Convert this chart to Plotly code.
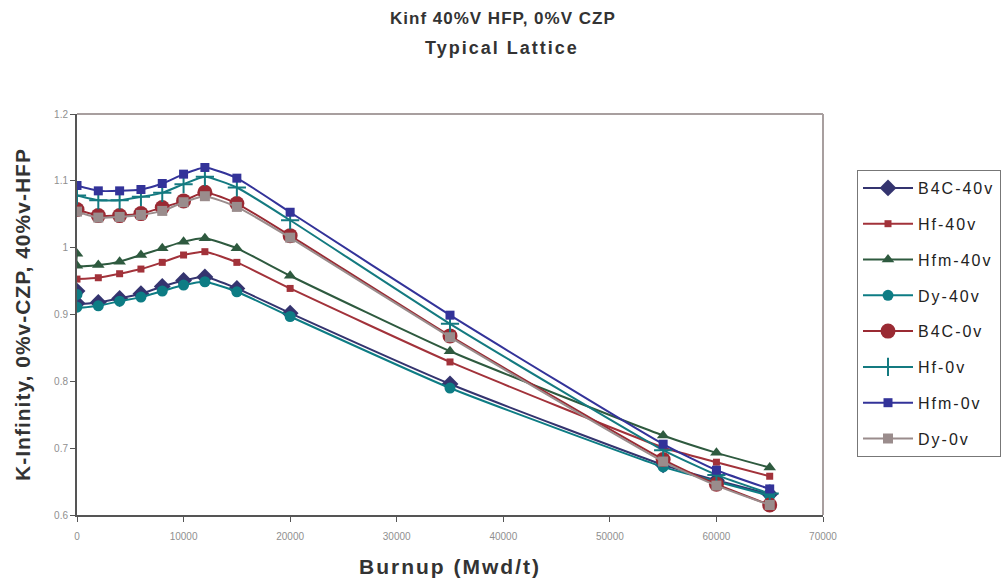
import plotly.graph_objects as go

# Burnup points (Mwd/t); the 40%v cases carry two states at zero burnup
burnup_40v = [0, 0, 2000, 4000, 6000, 8000, 10000, 12000, 15000, 20000, 35000, 55000, 60000, 65000]
burnup_single = [0, 2000, 4000, 6000, 8000, 10000, 12000, 15000, 20000, 35000, 55000, 60000, 65000]

b4c_40v = [0.935, 0.917, 0.918, 0.924, 0.931, 0.942, 0.951, 0.956, 0.939, 0.902, 0.796, 0.675, 0.652, 0.631]
hf_40v = [0.953, 0.955, 0.961, 0.968, 0.978, 0.989, 0.994, 0.978, 0.939, 0.829, 0.701, 0.679, 0.658]
hfm_40v = [0.991, 0.973, 0.974, 0.979, 0.989, 0.999, 1.009, 1.014, 0.999, 0.958, 0.845, 0.719, 0.693, 0.671]
dy_40v = [0.930, 0.911, 0.913, 0.920, 0.926, 0.935, 0.944, 0.949, 0.934, 0.897, 0.790, 0.672, 0.650, 0.629]
b4c_0v = [1.057, 1.048, 1.048, 1.051, 1.060, 1.070, 1.083, 1.066, 1.018, 0.868, 0.683, 0.646, 0.615]
hf_0v = [1.078, 1.071, 1.071, 1.076, 1.082, 1.095, 1.106, 1.090, 1.041, 0.886, 0.697, 0.660, 0.632]
hfm_0v = [1.093, 1.085, 1.085, 1.087, 1.096, 1.110, 1.120, 1.104, 1.053, 0.899, 0.706, 0.667, 0.639]
dy_0v = [1.054, 1.045, 1.046, 1.049, 1.055, 1.068, 1.077, 1.061, 1.015, 0.866, 0.680, 0.644, 0.615]

x_ticks = [0, 10000, 20000, 30000, 40000, 50000, 60000, 70000]
x_tick_text = ["0", "10000", "20000", "30000", "40000", "50000", "60000", "70000"]
y_ticks = [0.6, 0.7, 0.8, 0.9, 1.0, 1.1, 1.2]
y_tick_text = ["0.6", "0.7", "0.8", "0.9", "1", "1.1", "1.2"]

series = [
    ("B4C-40v", burnup_40v, b4c_40v, "#34346f", "diamond", 13),
    ("Hf-40v", burnup_single, hf_40v, "#a2323a", "square", 7),
    ("Hfm-40v", burnup_40v, hfm_40v, "#2e5a3f", "triangle-up", 11),
    ("Dy-40v", burnup_40v, dy_40v, "#0d7c84", "circle", 11),
    ("B4C-0v", burnup_single, b4c_0v, "#9a2a33", "circle", 15),
    ("Hf-0v", burnup_single, hf_0v, "#147a80", "cross-thin", 13),
    ("Hfm-0v", burnup_single, hfm_0v, "#333399", "square", 9),
    ("Dy-0v", burnup_single, dy_0v, "#9a8c8c", "square", 10),
]


def spaced(text, px):
    """Wrap text in a span with extra letter spacing."""
    return f"<span style='letter-spacing:{px}px'>{text}</span>"


fig = go.Figure()
for name, xs, ys, color, symbol, size in series:
    fig.add_trace(go.Scatter(
        x=xs, y=ys, name=spaced(name, 2), legendgroup=name,
        mode="lines+markers",
        line=dict(color=color, width=2, shape="spline", smoothing=0.5),
        marker=dict(symbol=symbol, size=size, color=color,
                    line=dict(width=2 if symbol == "cross-thin" else 0, color=color)),
    ))

font_family = "Liberation Sans, Arial, sans-serif"

W, H = 1005, 578
PLOT_LEFT, PLOT_RIGHT = 77, 823
PLOT_TOP, PLOT_BOTTOM = 114, 515
PLOT_W = PLOT_RIGHT - PLOT_LEFT
PLOT_H = PLOT_BOTTOM - PLOT_TOP


def paper_x(px):
    return (px - PLOT_LEFT) / PLOT_W


def paper_y(py):
    return (PLOT_BOTTOM - py) / PLOT_H


fig.update_layout(
    width=W, height=H,
    margin=dict(l=PLOT_LEFT, r=W - PLOT_RIGHT, t=PLOT_TOP, b=H - PLOT_BOTTOM, autoexpand=False),
    paper_bgcolor="white", plot_bgcolor="white",
    font=dict(family=font_family, color="#333333"),
    showlegend=True,
    legend=dict(
        x=paper_x(857), y=paper_y(170), xanchor="left", yanchor="top",
        bordercolor="#777777", borderwidth=1,
        font=dict(size=16, color="#222222"),
        itemwidth=50, tracegroupgap=12,
        bgcolor="white",
    ),
    xaxis=dict(
        range=[0, 70000], tickvals=x_ticks, ticktext=x_tick_text,
        showgrid=False, zeroline=False,
        showline=True, linecolor="#555555", linewidth=2,
        ticks="outside", ticklen=5, tickcolor="#555555",
        tickfont=dict(size=10, color="#8f8f8f"), ticklabelstandoff=6,
        title=dict(text="<b>" + spaced("Burnup (Mwd/t)", 2) + "</b>",
                   font=dict(size=21, color="#333333"), standoff=18),
    ),
    yaxis=dict(
        range=[0.6, 1.2], tickvals=y_ticks, ticktext=y_tick_text,
        showgrid=False, zeroline=False,
        showline=True, linecolor="#555555", linewidth=2,
        ticks="outside", ticklen=5, tickcolor="#555555",
        tickfont=dict(size=10, color="#8f8f8f"),
        title=dict(text="<b>" + spaced("K-Infinity, 0%v-CZP, 40%v-HFP", 1) + "</b>",
                   font=dict(size=21, color="#333333"), standoff=18),
    ),
    annotations=[
        dict(text="<b>" + spaced("Kinf 40%V HFP, 0%V CZP", 1) + "</b>", xref="paper", yref="paper",
             x=paper_x(503), y=paper_y(18),
             xanchor="center", yanchor="middle", showarrow=False,
             font=dict(size=17, color="#333333")),
        dict(text="<b>" + spaced("Typical Lattice", 2) + "</b>", xref="paper", yref="paper",
             x=paper_x(502), y=paper_y(48),
             xanchor="center", yanchor="middle", showarrow=False,
             font=dict(size=18, color="#333333")),
    ],
    shapes=[
        dict(type="line", xref="paper", yref="paper", x0=0, x1=1, y0=1, y1=1,
             line=dict(color="#a89f9f", width=2)),
        dict(type="line", xref="paper", yref="paper", x0=1, x1=1, y0=0, y1=1,
             line=dict(color="#a89f9f", width=2)),
    ],
)

fig.write_html("out.html")
